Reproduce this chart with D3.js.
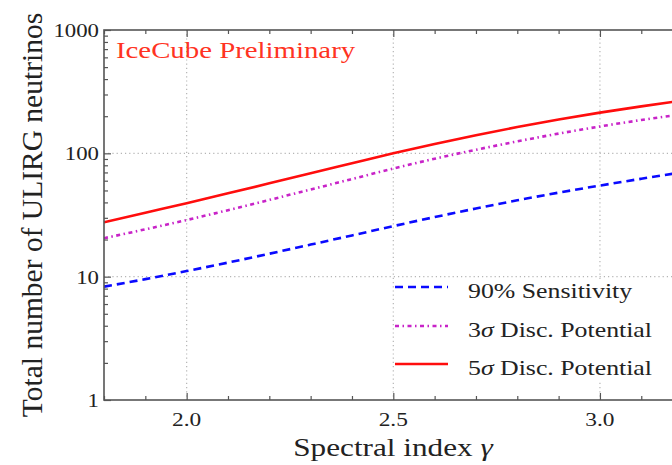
<!DOCTYPE html>
<html>
<head>
<meta charset="utf-8">
<script src="https://cdn.jsdelivr.net/npm/d3@7"></script>
<style>
  html, body { margin: 0; padding: 0; background: #fff; }
  svg { display: block; }
</style>
</head>
<body>
<div id="chart"></div>
<script>
// spectral index values and the three curves
const gammaVals = [1.8, 1.9, 2.0, 2.1, 2.2, 2.3, 2.4, 2.5, 2.6, 2.7, 2.8, 2.9, 3.0, 3.1, 3.2]
const sens90 = [8.3, 9.55, 11.1, 13.0, 15.35, 18.2, 21.6, 25.7, 30.4, 35.7, 41.6, 48.0, 54.8, 62.2, 70.2]
const disc3 = [20.5, 24.2, 28.8, 34.6, 41.9, 50.9, 61.9, 75.3, 90.4, 106.9, 125.0, 144.5, 165.2, 186.2, 207.5]
const disc5 = [27.6, 33.0, 39.4, 47.4, 57.1, 68.9, 83.0, 100, 119.1, 140.3, 163.3, 187.9, 213.8, 240.4, 267.9]

const xTicks = [2.0, 2.5, 3.0]
const xTickLabels = ['2.0', '2.5', '3.0']
const yTicks = [1, 10, 100, 1000]
const yTickLabels = ['1', '10', '100', '1000']
const legendLabels = [['90% Sensitivity'], ['3', 'σ', ' Disc. Potential'], ['5', 'σ', ' Disc. Potential']]

const width = 672
const height = 465
const pLeft = 104, pTop = 30, pBottom = 400, pRight = 682.6
const sx = 1.2 // text in the picture is stretched horizontally
const serif = '"Liberation Serif", "Times New Roman", serif'

const svg = d3.select('#chart').append('svg').attr('width', width).attr('height', height)
svg.append('rect').attr('width', width).attr('height', height).attr('fill', '#fff')

const xScale = d3.scaleLinear().domain([1.8, 3.2]).range([pLeft, pRight])
const yScale = d3.scaleLog().domain([1, 1000]).range([pBottom, pTop])

function label(x, y, size, anchor, color) {
  return svg.append('text').attr('x', x).attr('y', y)
    .attr('text-anchor', anchor)
    .style('font-family', serif)
    .style('font-size', size + 'px')
    .style('fill', color || '#222')
}
// widen glyphs like the picture does
function stretch(t) {
  const w = t.node().getComputedTextLength()
  t.attr('textLength', w * sx).attr('lengthAdjust', 'spacingAndGlyphs')
  return t
}

svg.append('clipPath').attr('id', 'plotclip').append('rect')
  .attr('x', pLeft).attr('y', pTop).attr('width', pRight - pLeft).attr('height', pBottom - pTop)

// grid
const grid = svg.append('g').attr('stroke', '#b5b5b5').attr('stroke-width', 1.2).attr('stroke-dasharray', '1.2,3')
grid.selectAll('.gx').data(xTicks).enter().append('line')
  .attr('x1', d => xScale(d)).attr('x2', d => xScale(d)).attr('y1', pTop).attr('y2', pBottom)
grid.selectAll('.gy').data(yTicks.slice(1, -1)).enter().append('line')
  .attr('x1', pLeft).attr('x2', pRight).attr('y1', d => yScale(d)).attr('y2', d => yScale(d))

// curves
const line = d3.line().x(d => xScale(d[0])).y(d => yScale(d[1])).curve(d3.curveMonotoneX)
const series = [
  { vals: sens90, color: '#0a0aff', dash: '8,5' },
  { vals: disc3, color: '#c823c8', dash: '4,3.5,1.5,3.5' },
  { vals: disc5, color: '#ff0d0d', dash: null }
]
const curves = svg.append('g').attr('clip-path', 'url(#plotclip)')
series.forEach(s => {
  curves.append('path')
    .datum(gammaVals.map((g, i) => [g, s.vals[i]]))
    .attr('d', line)
    .attr('fill', 'none')
    .attr('stroke', s.color)
    .attr('stroke-width', 2.6)
    .attr('stroke-dasharray', s.dash)
})

// axes with inward ticks
const xMinor = d3.range(18, 33).map(v => v / 10).filter(v => !xTicks.some(t => Math.abs(t - v) < 1e-6))
const yMinor = yScale.ticks().filter(v => !yTicks.includes(v))
const axisColor = '#555'

function styleAxis(g) {
  g.select('.domain').remove()
  g.selectAll('line').attr('stroke', axisColor).attr('stroke-width', 1.2)
}
svg.append('g').attr('transform', `translate(0,${pBottom})`).call(d3.axisBottom(xScale).tickValues(xMinor).tickSize(-4).tickFormat('')).call(styleAxis)
svg.append('g').attr('transform', `translate(0,${pBottom})`).call(d3.axisBottom(xScale).tickValues(xTicks).tickSize(-7).tickFormat('')).call(styleAxis)
svg.append('g').attr('transform', `translate(0,${pTop})`).call(d3.axisTop(xScale).tickValues(xMinor).tickSize(-4).tickFormat('')).call(styleAxis)
svg.append('g').attr('transform', `translate(0,${pTop})`).call(d3.axisTop(xScale).tickValues(xTicks).tickSize(-7).tickFormat('')).call(styleAxis)
svg.append('g').attr('transform', `translate(${pLeft},0)`).call(d3.axisLeft(yScale).tickValues(yMinor).tickSize(-4).tickFormat('')).call(styleAxis)
svg.append('g').attr('transform', `translate(${pLeft},0)`).call(d3.axisLeft(yScale).tickValues(yTicks).tickSize(-7).tickFormat('')).call(styleAxis)

// spines
svg.append('rect').attr('x', pLeft).attr('y', pTop).attr('width', pRight - pLeft).attr('height', pBottom - pTop)
  .attr('fill', 'none').attr('stroke', axisColor).attr('stroke-width', 1.6)

// tick labels
xTicks.forEach((d, i) => {
  stretch(label(xScale(d), 426, 19.5, 'middle').text(xTickLabels[i]))
})
yTicks.forEach((d, i) => {
  stretch(label(99, yScale(d) + 7, 19, 'end').text(yTickLabels[i]))
})

// axis titles
const xt = label(393, 456, 26, 'middle')
xt.append('tspan').text('Spectral index ')
xt.append('tspan').style('font-style', 'italic').text('γ')
stretch(xt)

svg.append('text').attr('transform', 'translate(42,215) rotate(-90)')
  .attr('text-anchor', 'middle')
  .style('font-family', serif).style('font-size', '29.5px').style('fill', '#222')
  .text('Total number of ULIRG neutrinos')

stretch(label(116, 58, 24, 'start', '#ff3322').text('IceCube Preliminary'))

// legend
svg.append('rect').attr('x', 394).attr('y', 281).attr('width', 300).attr('height', 99).attr('fill', '#fff')
const rowsY = [287, 326, 364]
series.forEach((s, i) => {
  svg.append('line').attr('x1', 395).attr('x2', 448).attr('y1', rowsY[i]).attr('y2', rowsY[i])
    .attr('stroke', s.color).attr('stroke-width', 2.6).attr('stroke-dasharray', s.dash)
  const t = label(468, rowsY[i] + 10.5, 21.5, 'start')
  const parts = legendLabels[i]
  if (parts.length === 1) {
    t.text(parts[0])
  } else {
    t.append('tspan').text(parts[0])
    t.append('tspan').style('font-style', 'italic').text(parts[1])
    t.append('tspan').text(parts[2])
  }
  stretch(t)
})
</script>
</body>
</html>
